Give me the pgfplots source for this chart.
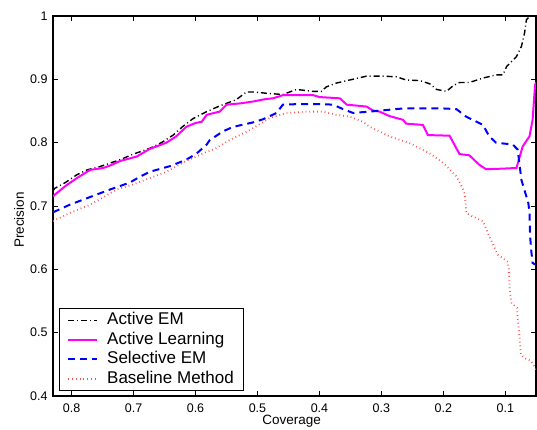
\documentclass[border=0pt]{standalone}
\usepackage{pgfplots}
\pgfplotsset{compat=1.18}
\usepackage{fontspec}
\setmainfont{Liberation Sans}
\definecolor{baseRed}{RGB}{255,80,80}
\definecolor{mag}{RGB}{255,0,255}
\begin{document}
\begin{tikzpicture}
\begin{axis}[
  at={(0,0)}, anchor=south west,
  scale only axis, width=483pt, height=380pt,
  x dir=reverse,
  xmin=0.0505, xmax=0.830, ymin=0.4, ymax=1,
  xtick={0.1,0.2,0.3,0.4,0.5,0.6,0.7,0.8},
  xticklabels={0.1,0.2,0.3,0.4,0.5,0.6,0.7,0.8},
  ytick={0.4,0.5,0.6,0.7,0.8,0.9,1},
  yticklabels={0.4,0.5,0.6,0.7,0.8,0.9,1},
  tick align=inside, major tick length=5pt,
  tick pos=both,
  every tick/.style={black, line width=0.8pt},
  axis line style={line width=1.3pt},
  tick label style={font=\fontsize{12.5}{14}\selectfont},
  xticklabel style={yshift=-4pt},
  yticklabel style={xshift=-2pt},
  xlabel={Coverage}, ylabel={Precision},
  every axis x label/.style={at={([yshift=-25pt]axis description cs:0.494,0)}, anchor=center, font=\fontsize{13.5}{16}\selectfont},
  every axis y label/.style={at={([xshift=-34pt]axis description cs:0,0.463)}, anchor=center, rotate=90, font=\fontsize{13.5}{16}\selectfont},
  legend cell align=left,
  legend style={at={(axis description cs:0.012,0.013)}, anchor=south west,
    draw=black, line width=0.8pt, font=\fontsize{17}{19}\selectfont,
    inner xsep=8pt, inner ysep=2pt,
    nodes={text height=12pt, text depth=3.5pt, inner ysep=2pt},
    /tikz/every odd column/.append style={column sep=7pt}},
  legend image code/.code={\draw[#1] (0pt,0pt) -- (29pt,0pt);},
]
\addplot[black, line width=1.4pt, dash pattern=on 6pt off 3pt on 1pt off 3pt] coordinates {
(0.830,0.724) (0.827,0.728) (0.810,0.737) (0.792,0.749) (0.775,0.757) (0.755,0.762)
(0.740,0.767) (0.722,0.773) (0.700,0.782) (0.674,0.791) (0.655,0.800) (0.636,0.812)
(0.620,0.826) (0.604,0.838) (0.582,0.849) (0.561,0.858) (0.534,0.868) (0.518,0.880)
(0.505,0.880) (0.486,0.878) (0.459,0.876) (0.437,0.884) (0.410,0.881) (0.397,0.881)
(0.389,0.888) (0.373,0.894) (0.351,0.899) (0.324,0.905) (0.297,0.905) (0.276,0.904)
(0.260,0.899) (0.238,0.898) (0.222,0.893) (0.211,0.884) (0.195,0.881) (0.184,0.890)
(0.174,0.895) (0.158,0.895) (0.136,0.902) (0.115,0.907) (0.104,0.907) (0.098,0.920)
(0.082,0.936) (0.074,0.952) (0.069,0.973) (0.066,0.994) (0.060,1.000) (0.0505,1.000)
};
\addlegendentry{Active EM}
\addplot[mag, line width=2pt] coordinates {
(0.830,0.715) (0.827,0.718) (0.808,0.733) (0.790,0.745) (0.770,0.757) (0.749,0.760)
(0.735,0.765) (0.722,0.771) (0.695,0.778) (0.674,0.790) (0.647,0.800) (0.631,0.810)
(0.615,0.825) (0.600,0.831) (0.590,0.833) (0.582,0.844) (0.561,0.849) (0.550,0.860)
(0.528,0.862) (0.507,0.865) (0.486,0.869) (0.475,0.870) (0.459,0.875) (0.410,0.875)
(0.400,0.872) (0.367,0.870) (0.356,0.860) (0.324,0.857) (0.314,0.851) (0.303,0.849)
(0.287,0.842) (0.265,0.836) (0.260,0.830) (0.233,0.828) (0.225,0.812) (0.190,0.811)
(0.174,0.782) (0.158,0.780) (0.142,0.765) (0.131,0.758) (0.104,0.759) (0.082,0.760)
(0.072,0.794) (0.061,0.810) (0.056,0.836) (0.052,0.891) (0.0505,0.895)
};
\addlegendentry{Active Learning}
\addplot[blue, line width=2pt, dash pattern=on 7pt off 5pt] coordinates {
(0.830,0.690) (0.803,0.702) (0.776,0.712) (0.738,0.726) (0.706,0.737) (0.690,0.746)
(0.674,0.754) (0.641,0.763) (0.615,0.773) (0.598,0.783) (0.582,0.797) (0.577,0.804)
(0.5555,0.818) (0.539,0.825) (0.507,0.832) (0.491,0.837) (0.469,0.847) (0.459,0.860)
(0.432,0.861) (0.400,0.861) (0.378,0.860) (0.362,0.853) (0.346,0.847) (0.319,0.849)
(0.287,0.852) (0.265,0.854) (0.200,0.854) (0.179,0.853) (0.163,0.841) (0.136,0.828)
(0.126,0.810) (0.115,0.800) (0.088,0.797) (0.080,0.789) (0.074,0.741) (0.066,0.715)
(0.064,0.712) (0.061,0.691) (0.060,0.652) (0.058,0.628) (0.056,0.610) (0.0505,0.607)
};
\addlegendentry{Selective EM}
\addplot[baseRed, line width=1.8pt, dash pattern=on 0.8pt off 3pt] coordinates {
(0.830,0.676) (0.803,0.689) (0.770,0.702) (0.727,0.726) (0.695,0.736) (0.674,0.744)
(0.647,0.754) (0.615,0.771) (0.588,0.783) (0.569,0.790) (0.545,0.804) (0.512,0.820)
(0.480,0.839) (0.453,0.847) (0.416,0.849) (0.394,0.849) (0.373,0.844) (0.351,0.841)
(0.330,0.833) (0.319,0.825) (0.287,0.810) (0.254,0.799) (0.222,0.783) (0.200,0.768)
(0.179,0.747) (0.168,0.726) (0.166,0.720) (0.164,0.705) (0.163,0.689) (0.152,0.683)
(0.136,0.676) (0.126,0.652) (0.112,0.623) (0.096,0.612) (0.094,0.599) (0.093,0.568)
(0.090,0.547) (0.081,0.539) (0.080,0.521) (0.077,0.494) (0.075,0.465) (0.069,0.460)
(0.058,0.455) (0.0505,0.442)
};
\addlegendentry{Baseline Method}
\end{axis}
\pgfresetboundingbox
\path (-53pt,-34pt) rectangle (484pt,396pt);
\end{tikzpicture}
\end{document}
